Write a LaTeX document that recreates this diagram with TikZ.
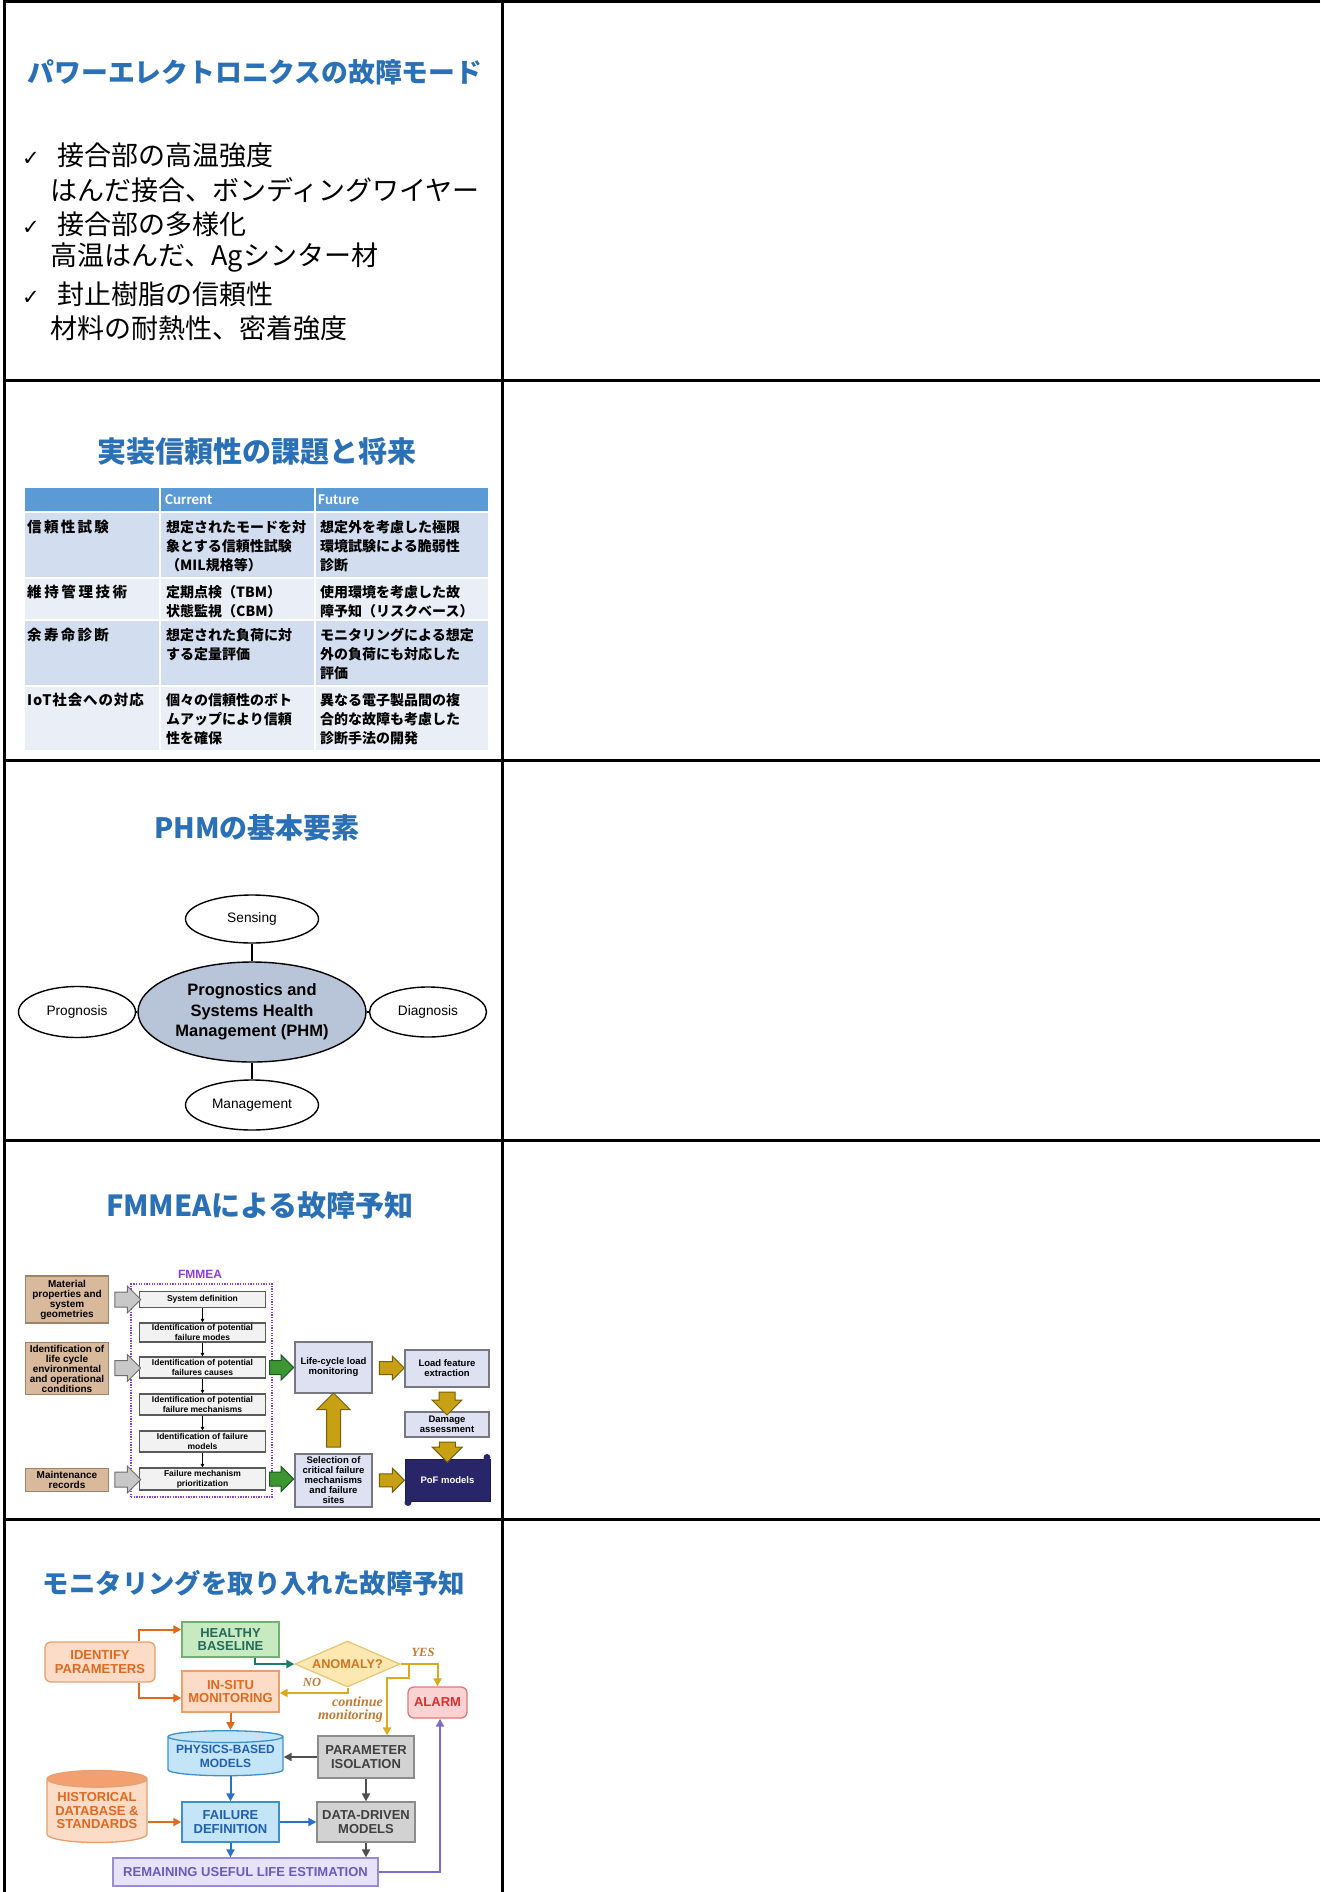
\documentclass[tikz,border=0pt]{standalone}
\usepackage{fontspec}
\setmainfont{Liberation Sans}
\newfontfamily\jp{Noto Sans CJK JP}
\newfontfamily\dv{DejaVu Sans}
\newfontfamily\carl{Carlito}
\newfontfamily\lser{Liberation Serif}
\usetikzlibrary{shapes.geometric,shapes.arrows,arrows.meta,calc}
\definecolor{ttl}{RGB}{42,112,182}
\definecolor{hdr}{RGB}{91,155,213}
\definecolor{bandA}{RGB}{210,222,239}
\definecolor{bandB}{RGB}{234,239,247}
\definecolor{phmfill}{RGB}{184,196,216}
\definecolor{tanf}{RGB}{217,185,155}
\definecolor{tand}{RGB}{160,130,100}
\definecolor{stepf}{RGB}{242,242,242}
\definecolor{stepd}{RGB}{90,90,90}
\definecolor{lavf}{RGB}{221,225,241}
\definecolor{lavd}{RGB}{120,120,130}
\definecolor{navyP}{RGB}{40,38,105}
\definecolor{fmpurple}{RGB}{140,60,225}
\definecolor{greyarf}{RGB}{200,200,200}
\definecolor{greyard}{RGB}{110,110,110}
\definecolor{greenf}{RGB}{60,150,50}
\definecolor{greend}{RGB}{30,90,30}
\definecolor{goldf}{RGB}{200,160,20}
\definecolor{goldd}{RGB}{120,95,10}
\definecolor{orT}{RGB}{224,105,31}
\definecolor{orF}{RGB}{252,220,198}
\definecolor{orD}{RGB}{232,160,112}
\definecolor{orTop}{RGB}{243,160,112}
\definecolor{grnF}{RGB}{200,234,192}
\definecolor{grnD}{RGB}{112,176,112}
\definecolor{grnT}{RGB}{35,107,90}
\definecolor{tealA}{RGB}{30,124,106}
\definecolor{ylF}{RGB}{252,232,176}
\definecolor{ylD}{RGB}{232,200,120}
\definecolor{ylT}{RGB}{210,116,36}
\definecolor{goldA}{RGB}{221,170,30}
\definecolor{pkF}{RGB}{250,210,210}
\definecolor{pkD}{RGB}{224,120,120}
\definecolor{pkT}{RGB}{216,48,48}
\definecolor{blF}{RGB}{196,228,248}
\definecolor{blD}{RGB}{60,144,208}
\definecolor{blT}{RGB}{31,95,176}
\definecolor{blA}{RGB}{42,111,200}
\definecolor{gyF}{RGB}{210,210,210}
\definecolor{gyD}{RGB}{140,140,140}
\definecolor{gyT}{RGB}{64,64,64}
\definecolor{gyA}{RGB}{80,80,80}
\definecolor{puF}{RGB}{232,226,250}
\definecolor{puD}{RGB}{154,140,216}
\definecolor{puT}{RGB}{106,90,192}
\definecolor{puA}{RGB}{122,108,208}
\definecolor{lblT}{RGB}{196,122,48}
\tikzset{
  ttlnode/.style={inner sep=0, text=ttl, font=\jp\bfseries\fontsize{#1}{#1}\selectfont},
  body/.style={inner sep=0, anchor=west, font=\jp\fontsize{27}{27}\selectfont},
  cell/.style={inner sep=0, anchor=north west, align=left, font=\jp\bfseries\fontsize{14}{19}\selectfont},
  lcell/.style={cell, font=\jp\bfseries\fontsize{14.5}{19}\selectfont\addfontfeature{LetterSpace=#1}},
  hcell/.style={inner sep=0, anchor=west, text=white, font=\carl\bfseries\fontsize{15}{15}\selectfont},
  ell/.style={ellipse, draw=black, line width=1.4, fill=white, inner sep=0, font=\fontsize{13.7}{16}\selectfont},
  conn/.style={line width=1.4},
  tanbox/.style={rectangle, draw=tand, fill=tanf, line width=1.2, inner sep=0, align=center, font=\bfseries\fontsize{10}{10}\selectfont},
  stepbox/.style={rectangle, draw=stepd, fill=stepf, line width=1.2, inner sep=0, minimum width=126, align=center, font=\bfseries\fontsize{8.5}{10}\selectfont},
  lavbox/.style={rectangle, draw=lavd, fill=lavf, line width=1.3, inner sep=0, align=center, font=\bfseries\fontsize{9.5}{10}\selectfont},
  smallar/.style={line width=0.9, -{Triangle[length=3.5,width=3.5]}},
  blk/.style={single arrow, inner sep=0, line width=1},
  greyblk/.style={blk, draw=greyard, fill=greyarf, minimum height=26, single arrow head extend=6},
  greenblk/.style={blk, draw=greend, fill=greenf, minimum height=24, single arrow head extend=5.5},
  goldblk/.style={blk, draw=goldd, fill=goldf, minimum height=#1, single arrow head extend=5.5},
  mbox/.style={rectangle, line width=1.3, inner sep=0, align=center, font=\bfseries\fontsize{13}{13.5}\selectfont},
  marr/.style={line width=2, -{Triangle[length=8,width=8]}},
  lbl/.style={inner sep=0, text=lblT, font=\lser\bfseries\itshape\fontsize{12.5}{13}\selectfont}
}
\newcommand{\chkmark}{\makebox[35pt][l]{\dv\fontsize{21}{21}\selectfont ✓}}
\begin{document}
\begin{tikzpicture}[x=1pt,y=-1pt]
\useasboundingbox (0,0) rectangle (1320,1892);
\fill[white] (0,0) rectangle (1320,1892);
% ---------------- table grid
\draw[line width=3] (1320,2) -- (4.5,2) -- (4.5,1892);
\draw[line width=3] (502,2) -- (502,1892);
\foreach \yy in {380,760,1140,1519.5} \draw[line width=3] (4.5,\yy) -- (1320,\yy);

% ---------------- panel 1
\node[ttlnode=26.8] (t1) at (255,72) {パワーエレクトロニクスの故障モード};
\node[body] (a1) at (22,155) {\chkmark 接合部の高温強度};
\node[body] (a2) at (50,190) {はんだ接合、ボンディングワイヤー};
\node[body] (a3) at (22,224) {\chkmark 接合部の多様化};
\node[body] (a4) at (50,258) {高温はんだ、Agシンター材};
\node[body] (a5) at (22,294) {\chkmark 封止樹脂の信頼性};
\node[body] (a6) at (50,328) {材料の耐熱性、密着強度};

% ---------------- panel 2
\node[ttlnode=29] (t2) at (257,452) {実装信頼性の課題と将来};
\fill[hdr] (25,488) rectangle (488,512);
\fill[bandA] (25,512) rectangle (488,578);
\fill[bandB] (25,578) rectangle (488,620);
\fill[bandA] (25,620) rectangle (488,686);
\fill[bandB] (25,686) rectangle (488,750);
\foreach \yy in {512,578,620,686} \draw[white, line width=1.2] (25,\yy) -- (488,\yy);
\foreach \xx in {160,315} \draw[white, line width=1.2] (\xx,488) -- (\xx,750);
\node[hcell] (hc) at (165,500) {Current};
\node[hcell] (hf) at (318,500) {Future};
\node[lcell=16] (r1a) at (27,520) {信頼性試験};
\node[cell] (r1b) at (166,520) {想定されたモードを対\\象とする信頼性試験\\（MIL規格等）};
\node[cell] (r1c) at (320,520) {想定外を考慮した極限\\環境試験による脆弱性\\診断};
\node[lcell=18] (r2a) at (27,585) {維持管理技術};
\node[cell] (r2b) at (166,585) {定期点検（TBM）\\状態監視（CBM）};
\node[cell] (r2c) at (320,585) {使用環境を考慮した故\\障予知（リスクベース）};
\node[lcell=16] (r3a) at (27,628) {余寿命診断};
\node[cell] (r3b) at (166,628) {想定された負荷に対\\する定量評価};
\node[cell] (r3c) at (320,628) {モニタリングによる想定\\外の負荷にも対応した\\評価};
\node[lcell=6] (r4a) at (27,693) {IoT社会への対応};
\node[cell] (r4b) at (166,693) {個々の信頼性のボト\\ムアップにより信頼\\性を確保};
\node[cell] (r4c) at (320,693) {異なる電子製品間の複\\合的な故障も考慮した\\診断手法の開発};

% ---------------- panel 3
\node[ttlnode=28] (t3) at (257,828) {PHMの基本要素};
\node[ell, fill=phmfill, minimum width=228, minimum height=100, align=center, font=\bfseries\fontsize{16.5}{20.5}\selectfont] (phm) at (252,1012) {Prognostics and\\Systems Health\\Management (PHM)};
\node[ell, minimum width=133, minimum height=48] (sens) at (252,919) {Sensing};
\node[ell, minimum width=117, minimum height=51] (prog) at (77,1012) {Prognosis};
\node[ell, minimum width=117, minimum height=50] (diag) at (428,1012) {Diagnosis};
\node[ell, minimum width=133, minimum height=50] (mgmt) at (252,1105) {Management};
\draw[conn] (sens) -- (phm);
\draw[conn] (phm) -- (mgmt);
\draw[conn] (prog) -- (phm);
\draw[conn] (phm) -- (diag);

% ---------------- panel 4
\node[ttlnode=29] (t4) at (260,1205) {FMMEAによる故障予知};
\node[inner sep=0, text=fmpurple, font=\bfseries\fontsize{12}{12}\selectfont] (fml) at (200,1274) {FMMEA};
\node[draw=fmpurple, line width=1.2, dash pattern=on 1.3pt off 1.3pt, minimum width=141, minimum height=213, inner sep=0] (fbox) at (201.5,1390.5) {};
\node[stepbox, minimum height=16] (s1) at (202.5,1299.5) {System definition};
\node[stepbox, minimum height=19] (s2) at (202.5,1332.5) {Identification of potential\\failure modes};
\node[stepbox, minimum height=21] (s3) at (202.5,1367.5) {Identification of potential\\failures causes};
\node[stepbox, minimum height=21] (s4) at (202.5,1404.5) {Identification of potential\\failure mechanisms};
\node[stepbox, minimum height=21] (s5) at (202.5,1441.5) {Identification of failure\\models};
\node[stepbox, minimum height=22] (s6) at (202.5,1479) {Failure mechanism\\prioritization};
\draw[smallar] (s1) -- (s2);
\draw[smallar] (s2) -- (s3);
\draw[smallar] (s3) -- (s4);
\draw[smallar] (s4) -- (s5);
\draw[smallar] (s5) -- (s6);
\node[tanbox, minimum width=83, minimum height=47] (m1) at (67,1299.5) {Material\\properties and\\system\\geometries};
\node[tanbox, minimum width=83, minimum height=52] (m2) at (67,1368.5) {Identification of\\life cycle\\environmental\\and operational\\conditions};
\node[tanbox, minimum width=83, minimum height=23] (m3) at (67,1480) {Maintenance\\records};
\node[greyblk] (ga1) at ($(m1.east)!0.5!(s1.west)$) {\rule{0pt}{14pt}};
\node[greyblk] (ga2) at ($(m2.east)!0.5!(s3.west)$) {\rule{0pt}{14pt}};
\node[greyblk] (ga3) at ($(m3.east)!0.5!(s6.west)$) {\rule{0pt}{14pt}};
\node[lavbox, minimum width=77, minimum height=51] (lcm) at (333.5,1367.5) {Life-cycle load\\monitoring};
\node[lavbox, minimum width=77, minimum height=53] (sel) at (333.5,1480.5) {Selection of\\critical failure\\mechanisms\\and failure\\sites};
\node[lavbox, minimum width=84, minimum height=37] (lfe) at (447,1368.5) {Load feature\\extraction};
\node[lavbox, minimum width=84, minimum height=25] (dmg) at (447,1424.5) {Damage\\assessment};
\node[rectangle, fill=navyP, draw=navyP!70!black, line width=1, minimum width=85, minimum height=42, inner sep=0, text=white, font=\bfseries\fontsize{9.5}{10}\selectfont] (pof) at (447.5,1480) {PoF models};
\fill[navyP] ($(pof.north east)+(-3.5,-1)$) circle (3.5);
\fill[navyP] ($(pof.south west)+(3.5,1)$) circle (3.5);
\node[greenblk] (gr1) at ($(s3.east)+(12,0)$) {\rule{0pt}{13pt}};
\node[greenblk] (gr2) at ($(s6.east)+(12,0)$) {\rule{0pt}{13pt}};
\node[goldblk=25] (ya1) at ($(lcm.east)!0.5!(lfe.west)$) {\rule{0pt}{12pt}};
\node[goldblk=25] (ya2) at ($(sel.east)!0.5!(pof.west)$) {\rule{0pt}{12pt}};
\node[goldblk=54, single arrow head extend=9.5, rotate=90] (ya3) at ($(sel.north)!0.5!(lcm.south)$) {\rule{0pt}{13pt}};
\node[goldblk=23, single arrow head extend=7, rotate=-90] (ya4) at ($(lfe.south)!0.5!(dmg.north)$) {\rule{0pt}{15pt}};
\node[goldblk=20, single arrow head extend=7, rotate=-90] (ya5) at ($(dmg.south)!0.5!(pof.north)$) {\rule{0pt}{15pt}};

% ---------------- panel 5
\node[ttlnode=26.4] (t5) at (254,1583) {モニタリングを取り入れた故障予知};
\node[mbox, rounded corners=6, draw=orD, fill=orF, text=orT, minimum width=110, minimum height=40] (idp) at (100,1662) {IDENTIFY\\PARAMETERS};
\node[mbox, draw=grnD, fill=grnF, text=grnT, minimum width=97, minimum height=35] (hb) at (230.5,1639.5) {HEALTHY\\BASELINE};
\node[mbox, draw=orD, fill=orF, text=orT, minimum width=97, minimum height=41] (ism) at (230.5,1691.5) {IN-SITU\\MONITORING};
\node[diamond, draw=ylD, fill=ylF, text=ylT, line width=1.3, inner sep=0, aspect=2.3, minimum width=105, minimum height=46, font=\bfseries\fontsize{12.7}{13}\selectfont] (anom) at (347.5,1664) {ANOMALY?};
\node[mbox, rounded corners=6, draw=pkD, fill=pkF, text=pkT, minimum width=59, minimum height=31] (alarm) at (437.5,1702.5) {ALARM};
\node[cylinder, shape border rotate=90, aspect=0.12, draw=blD, fill=blF, text=blT, line width=1.3, inner sep=0, minimum width=115, minimum height=45, align=center, font=\bfseries\fontsize{12}{13.5}\selectfont] (phys) at (225.5,1756.5) {PHYSICS-BASED\\MODELS};
\node[mbox, draw=gyD, fill=gyF, text=gyT, minimum width=96, minimum height=42] (pi) at (366,1757) {PARAMETER\\ISOLATION};
\node[cylinder, shape border rotate=90, aspect=0.2, draw=orD, cylinder uses custom fill, cylinder body fill=orF, cylinder end fill=orTop, text=orT, line width=1.3, inner sep=0, minimum width=100, minimum height=72, align=center, font=\bfseries\fontsize{13}{13.5}\selectfont] (hist) at (97,1811) {HISTORICAL\\DATABASE \&\\STANDARDS};
\node[mbox, draw=blD, fill=blF, text=blT, minimum width=97, minimum height=40] (fd) at (230.5,1822) {FAILURE\\DEFINITION};
\node[mbox, draw=gyD, fill=gyF, text=gyT, minimum width=98, minimum height=40] (dd) at (366,1822) {DATA-DRIVEN\\MODELS};
\node[mbox, draw=puD, fill=puF, text=puT, minimum width=265, minimum height=28] (rul) at (245.5,1872) {REMAINING USEFUL LIFE ESTIMATION};
% connectors
\draw[marr, orT] ($(idp.north)+(39,0)$) |- ($(hb.west)+(0,-10)$);
\draw[marr, orT] ($(idp.south)+(39,0)$) |- ($(ism.west)+(0,6.5)$);
\draw[marr, tealA] ($(hb.south)+(24.5,0)$) |- (anom.west);
\draw[marr, goldA] (anom.south) |- ($(ism.east)+(0,1.5)$);
\draw[marr, goldA] (anom.east) -| (alarm.north);
\draw[marr, goldA] ($(anom.east)+(8,0)$) -- ++(0,14) -| ($(pi.north)+(21,0)$);
\draw[marr, orT] (ism.south) -- (ism.south |- phys.north);
\draw[marr, gyA] (pi.west) -- (phys.east |- pi.west);
\draw[marr, blA] (fd.north |- phys.south) -- (fd.north);
\draw[marr, orT] (hist.east |- fd.west) -- (fd.west);
\draw[marr, blA] (fd.east) -- (dd.west);
\draw[marr, gyA] (pi.south) -- (dd.north);
\draw[marr, blA] (fd.south) -- (fd.south |- rul.north);
\draw[marr, gyA] (dd.south) -- (dd.south |- rul.north);
\draw[marr, puA] (rul.east) -| ($(alarm.south)+(2.5,0)$);
\node[lbl] (yes) at (423,1652) {YES};
\node[lbl] (no) at (312,1682) {NO};
\node[lbl, anchor=east, align=right, font=\lser\bfseries\itshape\fontsize{14}{13}\selectfont] (cont) at (383,1709.5) {continue\\monitoring};
\end{tikzpicture}
\end{document}
